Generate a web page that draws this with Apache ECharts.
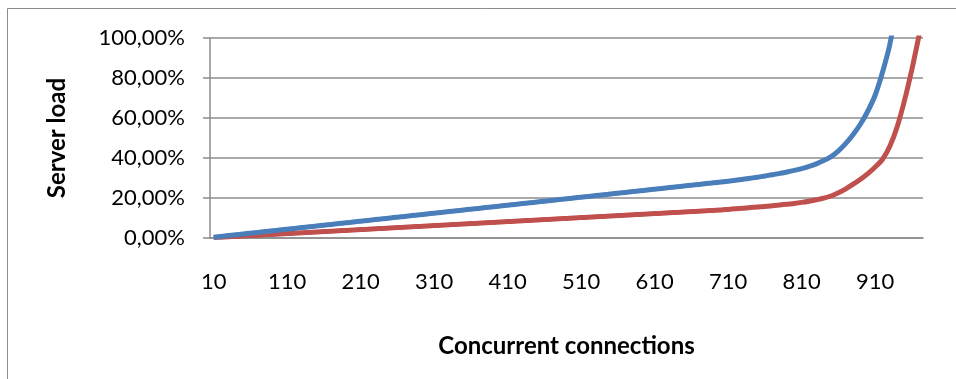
<!DOCTYPE html>
<html>
<head>
<meta charset="utf-8">
<script src="https://cdn.jsdelivr.net/npm/echarts@6/dist/echarts.min.js"></script>
<style>
html,body{margin:0;padding:0;background:#fff;}
#c{width:956px;height:379px;}
</style>
</head>
<body>
<div id="c"></div>
<script>
var categories = [10,20,30,40,50,60,70,80,90,100,110,120,130,140,150,160,170,180,190,200,210,220,230,240,250,260,270,280,290,300,310,320,330,340,350,360,370,380,390,400,410,420,430,440,450,460,470,480,490,500,510,520,530,540,550,560,570,580,590,600,610,620,630,640,650,660,670,680,690,700,710,720,730,740,750,760,770,780,790,800,810,820,830,840,850,860,870,880,890,900,910,920,930,940,950,960,970];

var blueLoad = [0.4,0.8,1.2,1.6,2.0,2.4,2.8,3.2,3.6,4.0,
4.4,4.8,5.2,5.6,6.0,6.4,6.8,7.2,7.6,8.0,
8.4,8.8,9.2,9.6,10.0,10.4,10.8,11.2,11.6,12.0,
12.4,12.8,13.2,13.6,14.0,14.4,14.8,15.2,15.6,16.0,
16.4,16.8,17.2,17.6,18.0,18.4,18.8,19.2,19.6,20.0,
20.4,20.8,21.2,21.6,22.0,22.4,22.8,23.2,23.6,24.0,
24.4,24.8,25.2,25.6,26.0,26.4,26.8,27.2,27.6,28.0,
28.4,28.9,29.4,29.9,30.4,31.0,31.6,32.3,33.0,33.8,
34.7,35.8,37.1,38.7,40.7,43.6,47.3,51.8,57.0,63.5,
71.5,83.0,97.0,118.0,null,null,null];

var redLoad = [0.2,0.4,0.6,0.8,1.0,1.2,1.4,1.6,1.8,2.0,
2.2,2.4,2.6,2.8,3.0,3.2,3.4,3.6,3.8,4.0,
4.2,4.4,4.6,4.8,5.0,5.2,5.4,5.6,5.8,6.0,
6.2,6.4,6.6,6.8,7.0,7.2,7.4,7.6,7.8,8.0,
8.2,8.4,8.6,8.8,9.0,9.2,9.4,9.6,9.8,10.0,
10.2,10.4,10.6,10.8,11.0,11.2,11.4,11.6,11.8,12.0,
12.2,12.4,12.6,12.8,13.0,13.2,13.4,13.6,13.8,14.0,
14.3,14.6,14.9,15.2,15.5,15.8,16.1,16.5,16.9,17.3,
17.8,18.4,19.1,19.9,21.0,22.6,24.6,26.9,29.4,32.2,
35.5,39.4,46.0,55.8,69.0,84.5,102.0];

var yTicks = [0,20,40,60,80,100];

var chart = echarts.init(document.getElementById('c'), null, {renderer:'canvas'});
var gridColor = '#8c8c8c';
chart.setOption({
  backgroundColor: '#ffffff',
  animation: false,
  graphic: [{
    type: 'rect',
    shape: {x: 7.5, y: 8.5, width: 1000, height: 500},
    style: {fill: 'none', stroke: '#8c8c8c', lineWidth: 1},
    silent: true
  }],
  grid: {left: 210, right: 33, top: 38, bottom: 141, containLabel: false},
  xAxis: {
    type: 'category',
    data: categories,
    boundaryGap: true,
    name: 'Concurrent connections',
    nameLocation: 'middle',
    nameGap: 96,
    nameTextStyle: {fontFamily: 'Lato', fontWeight: 'bold', fontSize: 24, color: '#000'},
    axisLine: {show: true, lineStyle: {color: gridColor, width: 1.5}},
    axisTick: {show: false},
    axisLabel: {interval: 9, margin: 33, fontFamily: 'Lato', fontSize: 22, color: '#000'},
    splitLine: {show: false}
  },
  yAxis: {
    type: 'value',
    min: yTicks[0],
    max: yTicks[yTicks.length - 1],
    interval: 20,
    name: 'Server load',
    nameLocation: 'middle',
    nameRotate: 90,
    nameGap: 141,
    nameTextStyle: {fontFamily: 'Lato', fontWeight: 'bold', fontSize: 24, color: '#000'},
    axisLine: {show: true, lineStyle: {color: gridColor, width: 1.5}},
    axisTick: {show: true, length: 7, lineStyle: {color: gridColor, width: 1.5}},
    axisLabel: {margin: 25, fontFamily: 'Lato', fontSize: 22, color: '#000',
      formatter: function (v) { return v.toFixed(2).replace('.', ',') + '%'; }},
    splitLine: {show: true, lineStyle: {color: gridColor, width: 1.5}}
  },
  series: [
    {name: 'Red', type: 'line', data: redLoad, showSymbol: false, symbol: 'none', smooth: 0.3, clip: true,
      lineStyle: {color: '#C0504D', width: 5}, itemStyle: {color: '#C0504D'}},
    {name: 'Blue', type: 'line', data: blueLoad, showSymbol: false, symbol: 'none', smooth: 0.3, clip: true,
      lineStyle: {color: '#4A7EBB', width: 5}, itemStyle: {color: '#4A7EBB'}}
  ]
});
</script>
</body>
</html>
